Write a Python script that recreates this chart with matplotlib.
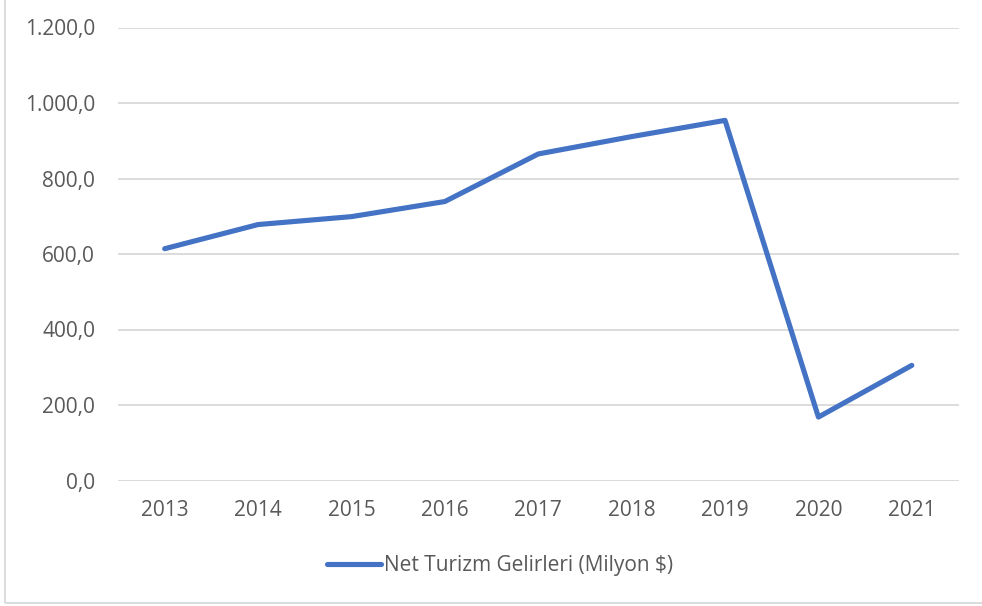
import matplotlib
matplotlib.use('Agg')
import matplotlib.pyplot as plt
from matplotlib.patches import Rectangle

years = ['2013', '2014', '2015', '2016', '2017', '2018', '2019', '2020', '2021']
gelir = [614, 678, 699, 739, 865, 911, 954, 168, 305]
yticks = [0, 200, 400, 600, 800, 1000, 1200]

def tr_fmt(v):
    # turkish style: 1.200,0
    s = '{:,.1f}'.format(v)
    return s.replace(',', 'X').replace('.', ',').replace('X', '.')

plt.rcParams['font.family'] = ['Open Sans', 'DejaVu Sans']
txt = '#595959'

fig = plt.figure(figsize=(9.82, 6.06), dpi=100)
ax = fig.add_axes([118/982, 1-480.5/606, (958.5-118)/982, (480.5-27.5)/606])

x = range(len(years))
ax.plot(x, gelir, color='#4472C4', lw=3.7, solid_capstyle='round',
        solid_joinstyle='round', label='Net Turizm Gelirleri (Milyon $)')

ax.set_xlim(-0.5, len(years) - 0.5)
ax.set_ylim(0, 1200)
ax.set_yticks(yticks)
ax.set_yticklabels([tr_fmt(v) for v in yticks])
ax.set_xticks(list(x))
ax.set_xticklabels(years)
ax.grid(axis='y', color='#D9D9D9', lw=1.3)
ax.set_axisbelow(True)
for sp in ax.spines.values():
    sp.set_visible(False)
ax.tick_params(length=0, labelsize=15, colors=txt)
ax.tick_params(axis='y', pad=16.5)
ax.tick_params(axis='x', pad=14)

leg = fig.legend(loc='center', bbox_to_anchor=(500/982, 1-566/606), frameon=False,
                 fontsize=15, handlelength=2.6, handletextpad=0.15)
for t in leg.get_texts():
    t.set_color(txt)

# outer frame
fig.patches.append(Rectangle((5/982, 3/606), 1.2, 1.2, transform=fig.transFigure,
                             fill=False, edgecolor='#D9D9D9', lw=1.3))

fig.savefig('out.png', dpi=100)
